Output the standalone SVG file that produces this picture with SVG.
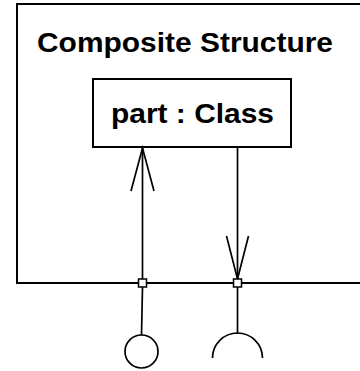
<svg xmlns="http://www.w3.org/2000/svg" width="360" height="371" viewBox="0 0 360 371">
<style>
.frame{fill:none;stroke:#000;stroke-width:2}
.box{fill:#fff;stroke:#000;stroke-width:2}
.ln{fill:none;stroke:#000;stroke-width:1.7}
.port{fill:#fff;stroke:#000;stroke-width:1.5}
.t{font-family:"Liberation Sans",Arial,Helvetica,sans-serif;font-weight:bold;font-size:28px;fill:#000}
</style>
<rect width="360" height="371" fill="#fff"/>
<g id="composite">
<path class="frame" d="M370,4 H17 V283 H370"/>
<text class="t" x="37" y="51.5" textLength="296" lengthAdjust="spacingAndGlyphs">Composite Structure</text>
</g>
<g id="part">
<rect class="box" x="93" y="79" width="198" height="68"/>
<text class="t" x="111" y="122.5" textLength="163" lengthAdjust="spacingAndGlyphs">part : Class</text>
</g>
<g id="connectors">
<line class="ln" x1="142.5" y1="279" x2="142.5" y2="148"/>
<polyline class="ln" points="131,191 142.5,148 154,191"/>
<line class="ln" x1="237.5" y1="148" x2="237.5" y2="279"/>
<polyline class="ln" points="226.5,236 237.5,279 248.5,236"/>
<line class="ln" x1="142.5" y1="287" x2="141.5" y2="335"/>
<line class="ln" x1="237.5" y1="287" x2="237.5" y2="334"/>
</g>
<g id="port-left">
<rect class="port" x="138.5" y="279" width="8" height="8"/>
</g>
<g id="port-right">
<rect class="port" x="233.5" y="279" width="8" height="8"/>
</g>
<g id="provided-interface">
<circle class="ln" cx="141.5" cy="351.5" r="16.5"/>
</g>
<g id="required-interface">
<path class="ln" d="M212.5,358 A25,25 0 0 1 262.5,358"/>
</g>
</svg>
